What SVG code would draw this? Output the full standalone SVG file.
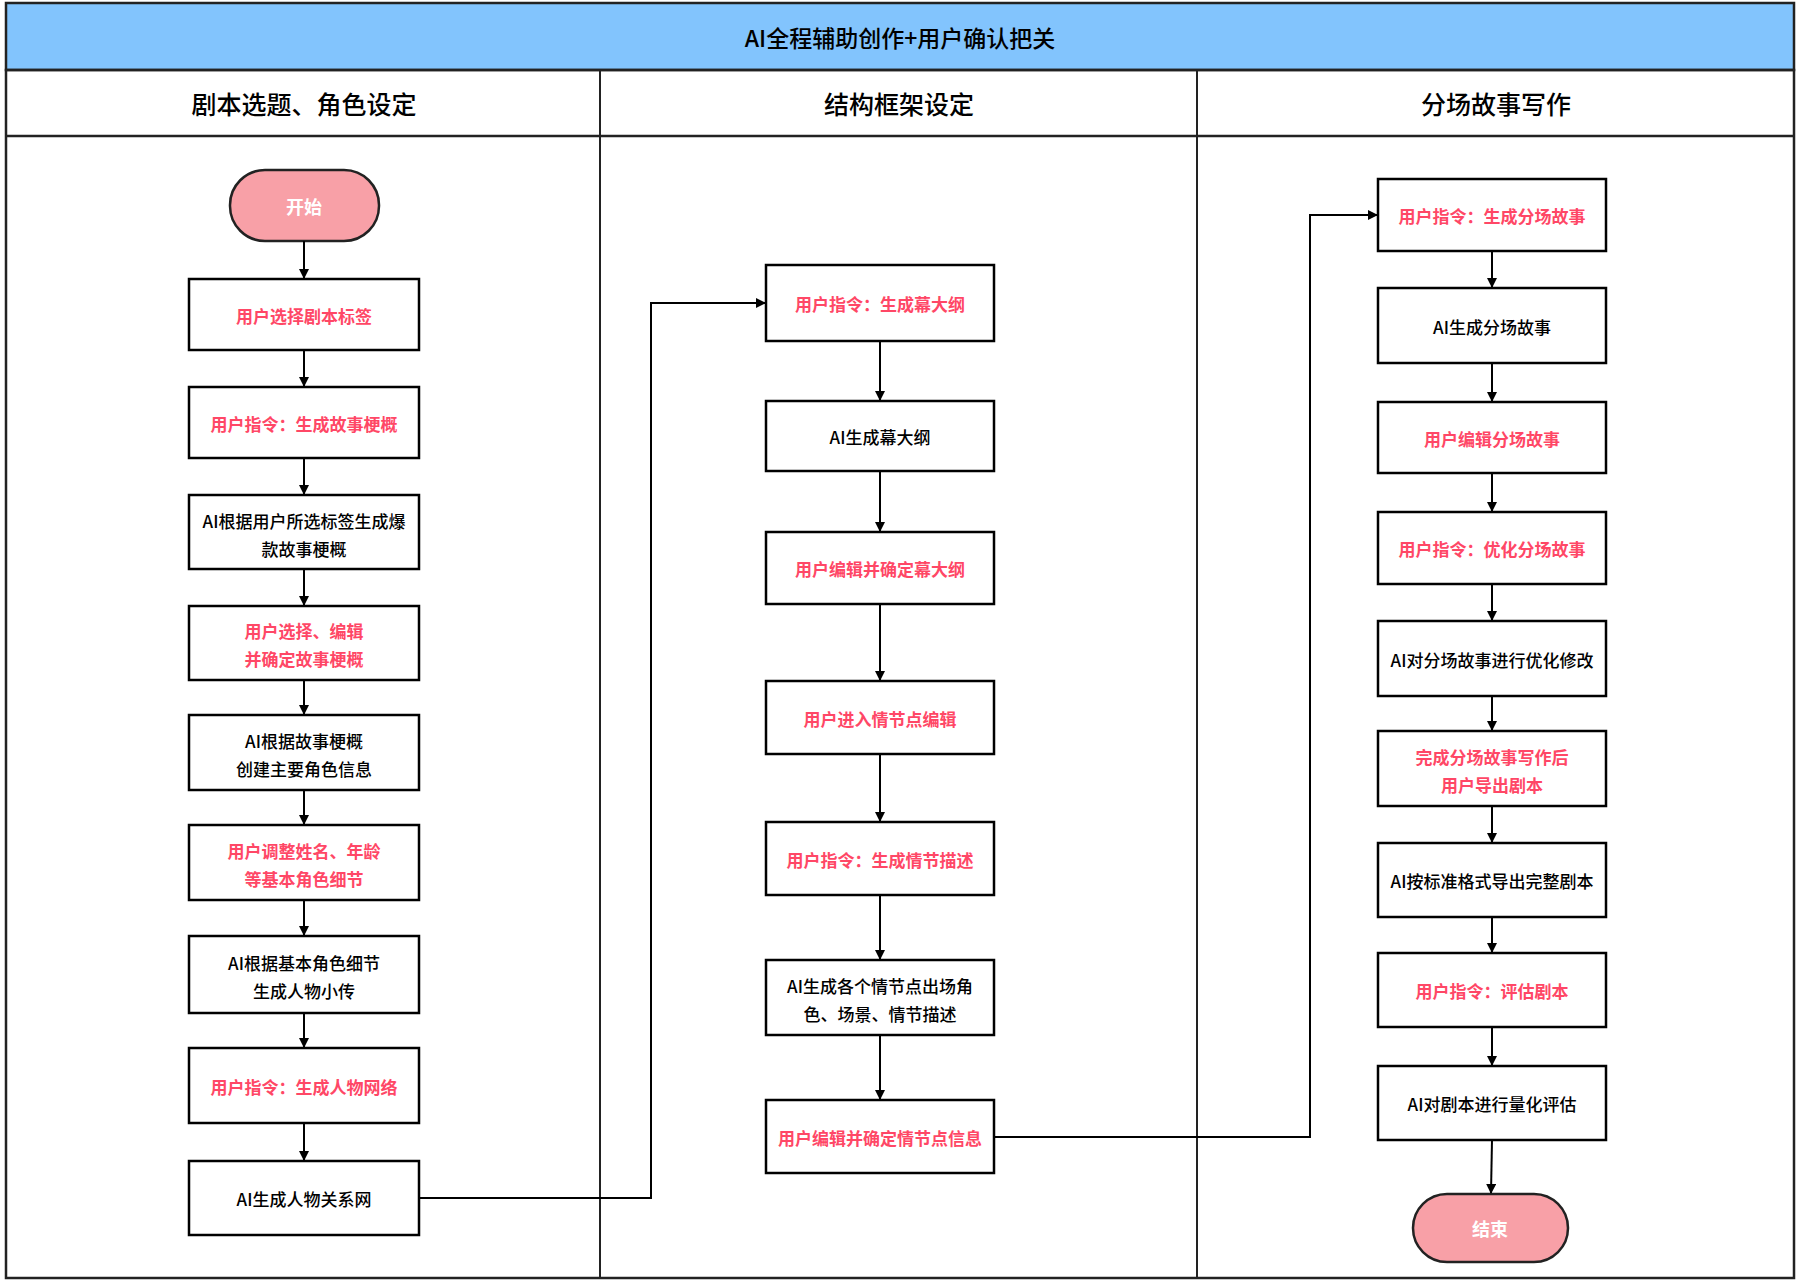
<svg xmlns="http://www.w3.org/2000/svg" width="1800" height="1286" viewBox="0 0 1800 1286">
<style>
text{font-family:"Noto Sans CJK SC","Noto Sans",sans-serif;text-anchor:middle;dominant-baseline:central}
.b{fill:#fff;stroke:#000;stroke-width:2.5}
.t{fill:#ff4766;font-size:17px;font-weight:700}
.k{fill:#000;font-size:17px;font-weight:500}
.e{fill:#f8a0a7;stroke:#222;stroke-width:2.5}
.et{fill:#fff;font-size:18px;font-weight:700}
.c{fill:none;stroke:#000;stroke-width:2;marker-end:url(#a)}
.h{font-size:25px;font-weight:500;fill:#000}
</style>
<defs><marker id="a" markerWidth="10" markerHeight="10" refX="9" refY="5" orient="auto" markerUnits="userSpaceOnUse"><path d="M0,0L10,5L0,10z" fill="#000"/></marker></defs>
<rect width="1800" height="1286" fill="#fff"/>
<g id="frame">
<rect x="6" y="3" width="1788" height="67" fill="#82c4fd" stroke="#222" stroke-width="2.5"/>
<text x="900" y="37" class="h" style="font-size:23px">AI全程辅助创作+用户确认把关</text>
<rect x="6" y="70" width="1788" height="1208" fill="none" stroke="#222" stroke-width="2.5"/>
<line x1="6" y1="136" x2="1794" y2="136" stroke="#222" stroke-width="2.5"/>
<line x1="600" y1="70" x2="600" y2="1278" stroke="#222" stroke-width="2"/>
<line x1="1197" y1="70" x2="1197" y2="1278" stroke="#222" stroke-width="2"/>
<text x="304" y="103" class="h">剧本选题、角色设定</text>
<text x="899" y="103" class="h">结构框架设定</text>
<text x="1496" y="103" class="h">分场故事写作</text>
</g>
<g id="start"><rect x="230" y="170" width="149" height="71" rx="35" class="e"/><text x="304" y="206" class="et">开始</text></g>
<g id="b1"><rect x="189" y="279" width="230" height="71" class="b"/><text x="304" y="315" class="t">用户选择剧本标签</text></g>
<g id="b2"><rect x="189" y="387" width="230" height="71" class="b"/><text x="304" y="423" class="t">用户指令：生成故事梗概</text></g>
<g id="b3"><rect x="189" y="495" width="230" height="74" class="b"/><text x="304" y="520" class="k">AI根据用户所选标签生成爆</text><text x="304" y="548" class="k">款故事梗概</text></g>
<g id="b4"><rect x="189" y="606" width="230" height="74" class="b"/><text x="304" y="630" class="t">用户选择、编辑</text><text x="304" y="658" class="t">并确定故事梗概</text></g>
<g id="b5"><rect x="189" y="715" width="230" height="75" class="b"/><text x="304" y="740" class="k">AI根据故事梗概</text><text x="304" y="768" class="k">创建主要角色信息</text></g>
<g id="b6"><rect x="189" y="825" width="230" height="75" class="b"/><text x="304" y="850" class="t">用户调整姓名、年龄</text><text x="304" y="878" class="t">等基本角色细节</text></g>
<g id="b7"><rect x="189" y="936" width="230" height="77" class="b"/><text x="304" y="962" class="k">AI根据基本角色细节</text><text x="304" y="990" class="k">生成人物小传</text></g>
<g id="b8"><rect x="189" y="1048" width="230" height="75" class="b"/><text x="304" y="1086" class="t">用户指令：生成人物网络</text></g>
<g id="b9"><rect x="189" y="1161" width="230" height="74" class="b"/><text x="304" y="1198" class="k">AI生成人物关系网</text></g>
<g id="c1"><rect x="766" y="265" width="228" height="76" class="b"/><text x="880" y="303" class="t">用户指令：生成幕大纲</text></g>
<g id="c2"><rect x="766" y="401" width="228" height="70" class="b"/><text x="880" y="436" class="k">AI生成幕大纲</text></g>
<g id="c3"><rect x="766" y="532" width="228" height="72" class="b"/><text x="880" y="568" class="t">用户编辑并确定幕大纲</text></g>
<g id="c4"><rect x="766" y="681" width="228" height="73" class="b"/><text x="880" y="718" class="t">用户进入情节点编辑</text></g>
<g id="c5"><rect x="766" y="822" width="228" height="73" class="b"/><text x="880" y="859" class="t">用户指令：生成情节描述</text></g>
<g id="c6"><rect x="766" y="960" width="228" height="75" class="b"/><text x="880" y="985" class="k">AI生成各个情节点出场角</text><text x="880" y="1013" class="k">色、场景、情节描述</text></g>
<g id="c7"><rect x="766" y="1100" width="228" height="73" class="b"/><text x="880" y="1137" class="t">用户编辑并确定情节点信息</text></g>
<g id="d1"><rect x="1378" y="179" width="228" height="72" class="b"/><text x="1492" y="215" class="t">用户指令：生成分场故事</text></g>
<g id="d2"><rect x="1378" y="288" width="228" height="75" class="b"/><text x="1492" y="326" class="k">AI生成分场故事</text></g>
<g id="d3"><rect x="1378" y="402" width="228" height="71" class="b"/><text x="1492" y="438" class="t">用户编辑分场故事</text></g>
<g id="d4"><rect x="1378" y="512" width="228" height="72" class="b"/><text x="1492" y="548" class="t">用户指令：优化分场故事</text></g>
<g id="d5"><rect x="1378" y="621" width="228" height="75" class="b"/><text x="1492" y="659" class="k">AI对分场故事进行优化修改</text></g>
<g id="d6"><rect x="1378" y="731" width="228" height="75" class="b"/><text x="1492" y="756" class="t">完成分场故事写作后</text><text x="1492" y="784" class="t">用户导出剧本</text></g>
<g id="d7"><rect x="1378" y="843" width="228" height="74" class="b"/><text x="1492" y="880" class="k">AI按标准格式导出完整剧本</text></g>
<g id="d8"><rect x="1378" y="953" width="228" height="74" class="b"/><text x="1492" y="990" class="t">用户指令：评估剧本</text></g>
<g id="d9"><rect x="1378" y="1066" width="228" height="74" class="b"/><text x="1492" y="1103" class="k">AI对剧本进行量化评估</text></g>
<g id="end"><rect x="1413" y="1194" width="155" height="68" rx="34" class="e"/><text x="1490" y="1228" class="et">结束</text></g>
<g id="connectors">
<path class="c" d="M304,241V278"/>
<path class="c" d="M304,350V386"/>
<path class="c" d="M304,458V494"/>
<path class="c" d="M304,569V605"/>
<path class="c" d="M304,680V714"/>
<path class="c" d="M304,790V824"/>
<path class="c" d="M304,900V935"/>
<path class="c" d="M304,1013V1047"/>
<path class="c" d="M304,1123V1160"/>
<path class="c" d="M419,1198H651V303H765"/>
<path class="c" d="M880,341V400"/>
<path class="c" d="M880,471V531"/>
<path class="c" d="M880,604V680"/>
<path class="c" d="M880,754V821"/>
<path class="c" d="M880,895V959"/>
<path class="c" d="M880,1035V1099"/>
<path class="c" d="M994,1137H1310V215H1377"/>
<path class="c" d="M1492,251V287"/>
<path class="c" d="M1492,363V401"/>
<path class="c" d="M1492,473V511"/>
<path class="c" d="M1492,584V620"/>
<path class="c" d="M1492,696V730"/>
<path class="c" d="M1492,806V842"/>
<path class="c" d="M1492,917V952"/>
<path class="c" d="M1492,1027V1065"/>
<path class="c" d="M1492,1140L1491,1193"/>
</g>
</svg>
